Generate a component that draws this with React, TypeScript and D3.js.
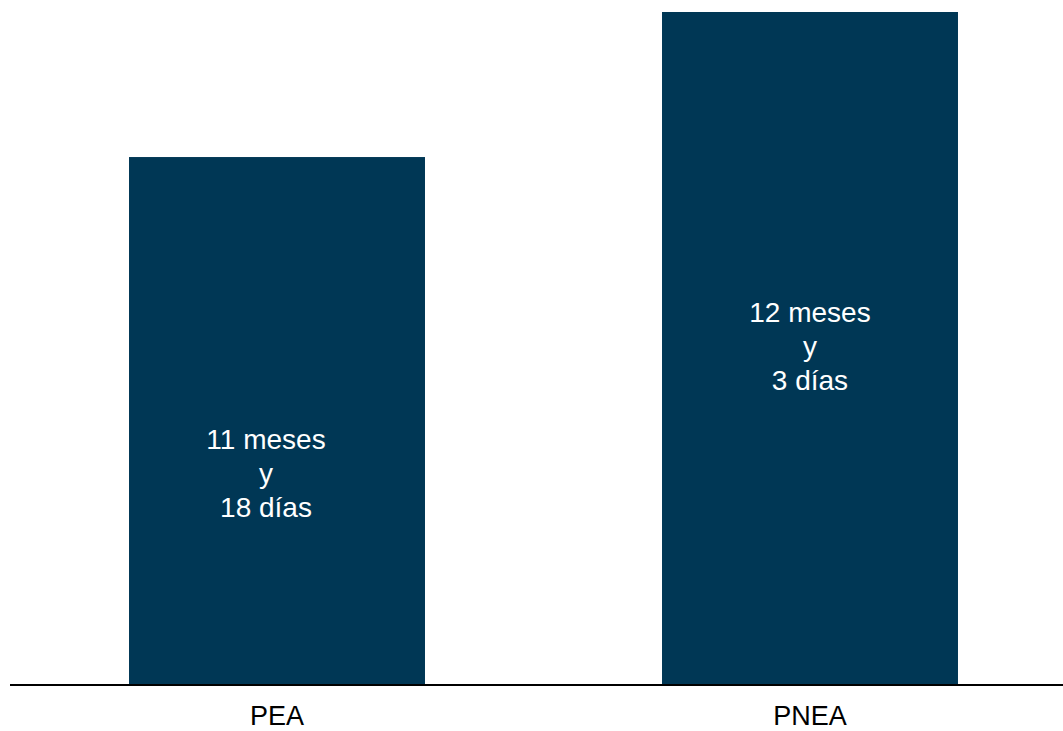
import React from "react";
import * as d3 from "d3";

// Data: duration in days (months*30 + days)
const categories = ["PEA", "PNEA"];
const valuesDays = [348, 363]; // 11 meses y 18 días, 12 meses y 3 días
const labelLines = [
  ["11 meses", "y", "18 días"],
  ["12 meses", "y", "3 días"],
];
const yDomain = [293.5, 363];

const W = 1063;
const H = 731;
const margin = { top: 12, bottom: 47, left: 10 };
const barColor = "#003755";

export default function App() {
  const x = d3
    .scaleBand<string>()
    .domain(categories)
    .range([margin.left, 1077])
    .paddingInner(0.4447)
    .paddingOuter(0.2233);
  const y = d3
    .scaleLinear()
    .domain(yDomain)
    .range([H - margin.bottom, margin.top]);

  const labelPos = [0.619, 0.512];
  const labelDx = [-11, 0];
  const lineH = 34;
  const font = "Liberation Sans, Arial, Helvetica, sans-serif";

  return (
    <svg
      width={W}
      height={H}
      style={{ position: "absolute", left: 0, top: 0, display: "block" }}
      fontFamily={font}
    >
      <rect width={W} height={H} fill="#ffffff" />
      {categories.map((c, i) => {
        const x0 = x(c) as number;
        const bw = x.bandwidth();
        const yTop = y(valuesDays[i]);
        const yBot = y(yDomain[0]);
        const cx = x0 + bw / 2 + labelDx[i];
        const midBase = yTop + (yBot - yTop) * labelPos[i];
        return (
          <g key={c}>
            <rect x={x0} y={yTop} width={bw} height={yBot - yTop} fill={barColor} />
            {labelLines[i].map((t, j) => (
              <text
                key={j}
                x={cx}
                y={midBase + (j - 1) * lineH}
                textAnchor="middle"
                fill="#ffffff"
                fontSize={28}
              >
                {t}
              </text>
            ))}
            <text
              x={x0 + bw / 2}
              y={725}
              textAnchor="middle"
              fill="#000000"
              fontSize={27}
            >
              {c}
            </text>
          </g>
        );
      })}
      <line
        x1={margin.left}
        x2={W}
        y1={y(yDomain[0]) + 1}
        y2={y(yDomain[0]) + 1}
        stroke="#000000"
        strokeWidth={2}
      />
    </svg>
  );
}
